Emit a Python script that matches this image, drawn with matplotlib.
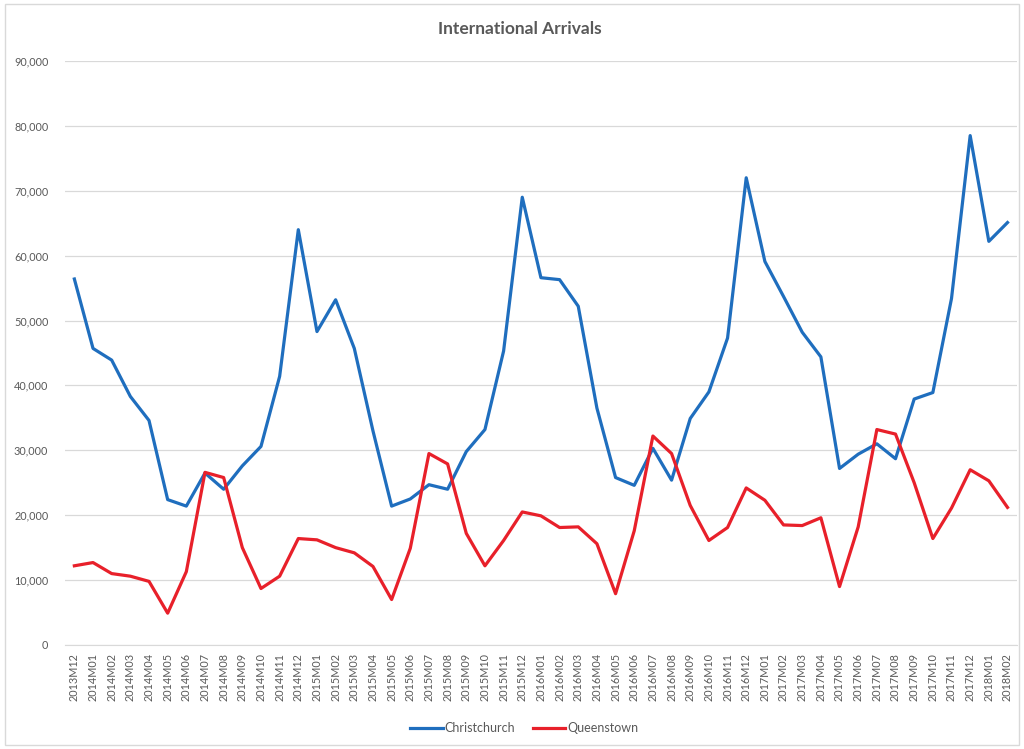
import matplotlib.pyplot as plt
from matplotlib.patches import Rectangle

plt.rcParams['font.family'] = ['Lato', 'DejaVu Sans']

# monthly periods, 2013M12 .. 2018M02
months = ['2013M12'] + ['%dM%02d' % (y, m) for y in range(2014, 2018) for m in range(1, 13)] + ['2018M01', '2018M02']

christchurch = [56400, 45700, 43900, 38300, 34600, 22400, 21400, 26500, 24000, 27600,
                30600, 41400, 64000, 48300, 53200, 45700, 33000, 21400, 22500, 24700,
                24000, 29800, 33200, 45300, 69000, 56600, 56300, 52200, 36500, 25800,
                24600, 30300, 25400, 34900, 39000, 47300, 72000, 59100, 53700, 48200,
                44400, 27200, 29400, 31000, 28700, 37900, 38900, 53400, 78500, 62200,
                65100]

queenstown = [12200, 12700, 11000, 10600, 9800, 4900, 11300, 26600, 25800, 15000,
              8700, 10600, 16400, 16200, 15000, 14200, 12100, 7000, 14900, 29500,
              27900, 17200, 12200, 16100, 20500, 19900, 18100, 18200, 15600, 7900,
              17600, 32200, 29500, 21500, 16100, 18100, 24200, 22300, 18500, 18400,
              19600, 9000, 18200, 33200, 32500, 25000, 16400, 21100, 27000, 25300,
              21200]

txt = '#595959'
grid = '#D9D9D9'

fig = plt.figure(figsize=(10.24, 7.49), dpi=100)
ax = fig.add_axes([0.0635, 0.1389, 0.9295, 0.7797])

x = range(len(months))
ax.plot(x, christchurch, color='#1F6EBE', lw=2.3, label='Christchurch', solid_joinstyle='round')
ax.plot(x, queenstown, color='#E8202A', lw=2.3, label='Queenstown', solid_joinstyle='round')

ax.set_xlim(-0.5, len(months) - 0.5)
ax.set_ylim(0, 90000)
ax.set_yticks(range(0, 90001, 10000))
ax.set_yticklabels(['{:,}'.format(v) for v in range(0, 90001, 10000)])
ax.set_xticks(list(x))
ax.set_xticklabels(months, rotation=90)
ax.tick_params(axis='both', length=0, colors=txt, labelsize=7.8)
ax.tick_params(axis='y', pad=12)
ax.tick_params(axis='x', pad=6)
ax.grid(axis='y', color=grid, lw=0.9)
ax.set_axisbelow(True)
for s in ['top', 'right', 'left']:
    ax.spines[s].set_visible(False)
ax.spines['bottom'].set_color(grid)

fig.text(0.508, 0.961, 'International Arrivals', ha='center', va='center',
         fontsize=12.5, fontweight='bold', color=txt)

fig.legend(loc='center', bbox_to_anchor=(0.512, 0.028), ncol=2, frameon=False,
           fontsize=9, labelcolor=txt, handlelength=2.6, handletextpad=0.15,
           columnspacing=1.4)

# chart border
fig.patches.append(Rectangle((0.005, 0.006), 0.99, 0.988, transform=fig.transFigure,
                             fill=False, edgecolor=grid, lw=1))

fig.savefig('out.png', dpi=100)
